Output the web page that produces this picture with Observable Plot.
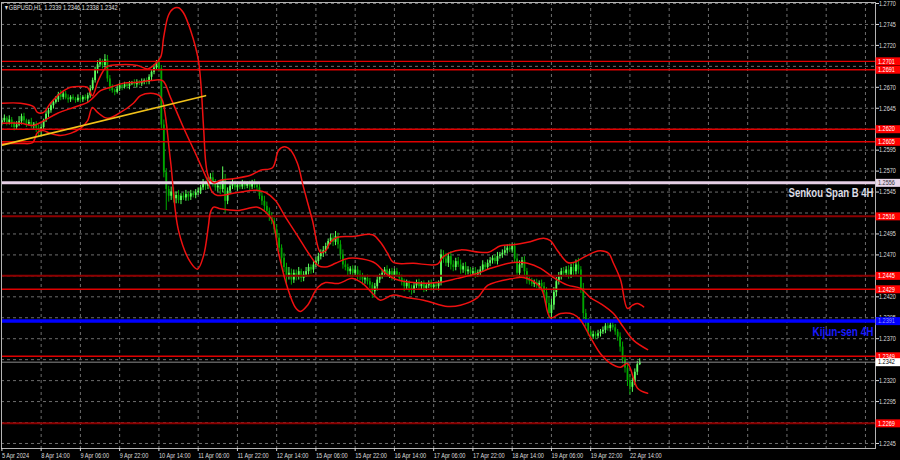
<!DOCTYPE html>
<html><head><meta charset="utf-8">
<script src="https://cdn.jsdelivr.net/npm/d3@7"></script>
<script src="https://cdn.jsdelivr.net/npm/@observablehq/plot@0.6"></script>
<style>
html,body{margin:0;padding:0;background:#000;}
#chart{width:900px;height:460px;overflow:hidden;}
</style></head><body><div id="chart"></div>
<script>
// ---- DATA (prices in pips above 1.2000) ----
const closes = [
630,633,628,631,627,622,625,629,635,630,
626,628,624,626,621,618,622,630,638,642,
648,652,655,661,658,662,657,655,658,656,
654,657,655,658,656,660,668,678,690,697,
700,696,703,680,670,666,664,668,672,670,
673,671,674,675,673,676,674,677,678,676,
682,688,693,699,692,625,568,548,540,545,
537,541,535,540,538,542,539,543,541,544,
546,550,555,552,558,562,556,550,552,548,
560,534,546,552,555,550,553,551,555,552,
554,551,556,553,550,540,534,528,522,515,
510,500,490,478,466,455,445,448,440,448,
444,450,442,446,450,455,452,458,462,468,
472,475,480,486,490,485,492,482,470,458,
455,450,453,448,452,446,444,440,442,438,
434,426,432,440,444,448,452,446,450,444,
450,446,442,438,432,436,430,428,433,437,
432,435,430,433,436,431,434,432,436,470,
465,460,468,458,455,462,458,452,456,450,
452,448,450,446,449,452,458,455,460,463,
466,462,468,470,472,475,478,476,480,465,
448,458,463,450,440,438,435,437,433,436,
432,425,412,400,410,425,438,445,450,448,
452,446,455,450,458,452,430,400,390,378,
372,375,373,376,378,380,385,382,386,383,
378,372,360,345,335,320,312,318,330,339,
342];
const firstOpen = 627;
const wickUp = [
3,4,2,5,3,2,4,6,3,4, 2,3,5,2,3,4,3,2,4,3, 3,2,4,3,5,2,3,4,2,3, 2,4,3,2,3,3,4,3,4,5,
4,3,6,5,4,3,2,4,3,2, 3,2,3,2,4,3,2,3,2,3, 3,2,4,3,5,4,6,5,4,6, 5,4,6,3,4,5,3,4,3,4,
4,3,5,3,4,5,6,4,3,4, 15,6,4,3,5,3,4,3,4,3, 3,4,3,4,3,5,4,6,5,4, 5,4,6,5,4,6,5,7,5,4,
4,5,3,4,5,4,3,4,5,4, 4,5,4,3,5,4,6,4,5,6, 5,4,3,4,5,4,5,4,3,4, 4,3,4,5,3,4,3,5,3,4,
3,4,3,4,3,4,3,4,3,3, 4,3,4,3,3,4,3,4,3,6, 5,7,4,6,5,4,5,6,4,5, 4,3,4,5,3,4,5,3,4,4,
3,4,5,3,4,5,4,5,3,4, 6,5,4,5,4,3,4,3,4,3, 4,5,6,8,7,6,5,4,4,5, 4,5,4,5,6,8,4,6,5,4,
3,4,3,4,3,4,3,4,3,4, 4,3,5,6,5,6,7,5,4,4, 4];
const wickDn = [
3,2,4,3,5,4,3,2,4,3, 4,2,3,4,5,8,6,3,2,4, 3,4,2,3,4,3,2,4,3,2, 3,2,4,3,2,4,3,2,3,4,
3,4,3,4,5,3,4,2,3,4, 2,3,4,2,3,4,2,3,4,3, 3,4,3,2,4,5,6,25,7,5, 5,6,4,5,3,4,5,4,3,4,
3,4,3,5,4,3,5,4,5,6, 4,14,4,3,4,3,4,3,3,4, 3,4,3,4,5,4,5,6,4,5, 4,5,6,5,7,6,12,5,6,4,
5,4,5,4,3,4,5,4,3,4, 4,5,4,3,4,5,4,5,6,5, 4,5,4,5,4,6,5,6,5,4, 4,8,4,5,4,3,4,3,4,5,
4,3,4,5,6,4,5,6,4,3, 3,4,5,4,3,4,3,4,5,3, 5,4,5,6,5,4,3,5,4,5, 4,5,3,4,3,4,3,4,3,4,
4,3,4,3,4,3,4,3,4,5, 6,5,4,6,5,4,3,4,3,4, 5,6,7,6,8,6,5,4,5,4, 4,5,4,5,4,5,6,7,6,5,
4,3,4,3,4,3,4,3,4,3, 4,5,6,5,6,7,9,6,4,4, 1];

// Bands: [bar index, pips]
const bandUpper = [[0,651],[7.6,651],[12.9,647],[14.5,640],[17,640],[19.8,651],[23.9,663],[28,670],[32,671],[34.9,670],[36.9,660],[39,676],[41,688],[43,695],[48.3,697],[55.3,696],[59.4,692],[61.8,696],[64.7,706],[65.9,729],[67.9,756],[69.9,764],[72,765],[74,759],[76.9,738],[80.1,702],[82.2,622],[83,583],[83.8,567],[84.6,561],[86.3,556],[89.1,559],[94.4,561],[101.3,565],[105.4,571],[110.3,574],[112.8,595],[115.2,599],[117.7,595],[120.5,579],[123,550],[126.6,511],[129.9,473],[131.9,475],[133.9,485],[136.8,491],[142.9,492],[151.1,494],[154.3,485],[157.2,472],[159.6,461],[167.8,460],[177.6,459],[179.6,467],[182.9,473],[187,476],[198,473],[203.3,481],[208.6,482],[214.3,485],[220.8,490],[223.6,487],[226.5,475],[230.6,461],[233,461],[237.1,467],[241.2,473],[244,475],[247.3,472],[249.3,460],[252.2,440],[255,406],[257.1,410],[259.1,412],[261.6,408]];
const bandMiddle = [[0,627],[7.6,627],[12.9,624.5],[17,630],[22.7,639],[29.2,646],[34.9,652],[37.3,658],[40.2,666],[44.3,670],[49.6,675],[55.3,676],[60.6,678],[65.5,678],[68.7,658],[74,622],[79.7,586],[83.8,559],[85.9,544.5],[87.9,541],[96,544.5],[104.2,547],[107.5,544.5],[111.5,535],[115.6,515],[120.9,491],[125,472],[129.1,457],[132.7,456],[136,460],[141.3,466],[147,465],[152.3,460],[156.4,448],[160.5,441],[167.8,437],[177.6,437],[185.7,442],[193.9,448],[199.2,454],[208.6,461],[214.3,460],[219.6,454],[224.9,443],[230.6,434],[235.9,430],[239.9,419],[244,412],[249.3,400],[253.4,383.5],[257.5,368],[263.2,357]];
const bandLower = [[0,603],[7.6,603],[12.5,604],[14.5,616],[16.6,618.5],[19.8,615],[23.9,612.5],[28,615],[32,621],[34.9,630],[36.9,646],[39,640],[43,633],[48.3,640],[53.6,651],[56.5,660],[61.8,662.6],[64.2,660],[65.5,654],[68.7,583],[72,499],[76.9,461],[79.7,453],[82.2,469],[84.2,505],[85,521],[86.3,527],[89.1,525],[96,523],[104.2,527],[107.5,521],[110.3,511],[112.8,472],[116.4,431],[119.7,407],[121.7,402.6],[124.6,410],[128.7,431],[131.9,437],[137.2,436],[142.9,442],[147,436],[151.1,424],[154.3,416],[159.2,422],[165.3,419],[171.9,416],[181.7,408.5],[186.9,410],[193.9,419],[198,433.6],[208.6,442],[212.6,443],[219.6,431],[223.6,395],[227.7,400],[233,399],[235.9,392],[239.9,371.5],[244,352],[248.1,340.5],[252.2,336],[255,340.5],[259.1,311],[263.2,305]];
const trendLine = [[0,601],[83,660]];

const levelsBright = [1.2701, 1.2691, 1.2620, 1.2605, 1.2429, 1.2349];
const levelsDark = [1.2516, 1.2445, 1.2269];
const senkou = 1.2556;
const kijun = 1.2391;
const lastPrice = 1.2342;
const title = "GBPUSD,H1  1.2339 1.2346 1.2338 1.2342";
const senkouLabel = "Senkou Span B 4H";
const kijunLabel = "Kijun-sen 4H";

const priceTicks = [1.2770,1.2745,1.2720,1.2695,1.2670,1.2645,1.2620,1.2595,1.2570,1.2545,1.2520,1.2495,1.2470,1.2445,1.2420,1.2395,1.2370,1.2345,1.2320,1.2295,1.2270,1.2245];
// tick labels hidden behind the price-label boxes in the terminal
const coveredTicks = [1.2695, 1.2620, 1.2520, 1.2445, 1.2345, 1.2270];
const tickIdx = [0,16,32,48,64,80,96,112,128,144,160,176,192,208,224,240,256];
const tickLabels = ["5 Apr 2024","8 Apr 14:00","9 Apr 06:00","9 Apr 22:00","10 Apr 14:00","11 Apr 06:00","11 Apr 22:00","12 Apr 14:00","15 Apr 06:00","15 Apr 22:00","16 Apr 14:00","17 Apr 06:00","17 Apr 22:00","18 Apr 14:00","19 Apr 06:00","19 Apr 22:00","22 Apr 14:00"];
const gridIdx = [16,32,48,64,80,96,112,128,144,160,176,192,208,224,240,256,272,288,304,320,336,352];

// ---- BUILD ----
const P = p => 1.2 + p / 10000;
const bars = closes.map((c, i) => {
  const o = i === 0 ? firstOpen : closes[i - 1];
  return {i, open: P(o), close: P(c), high: P(Math.max(o, c) + wickUp[i]), low: P(Math.min(o, c) - wickDn[i]), up: c >= o};
});
const X_END = 356.1;
const labelMap = new Map(tickIdx.map((d, i) => [d, tickLabels[i]]));
const visibleTicks = priceTicks.filter(d => !coveredTicks.includes(d));
const FONT = "'Liberation Sans',Arial,sans-serif";
const FS = 8, FSR = 7.1;
const UP = "#5cff5c", DOWN = "#00a800";
const bx = d => d[0], by = d => P(d[1]);

const allLevels = [...levelsBright, ...levelsDark];
const boxRule = (vals, color) => Plot.ruleY(vals, {y: d => d, x1: () => X_END + 0.25, x2: () => X_END + 10.4, stroke: color, strokeWidth: 8});
const boxText = (vals, color) => Plot.text(vals, {y: d => d, x: () => X_END, dx: 2.5, textAnchor: "start", text: d => d.toFixed(4), fill: color, fontSize: FSR});

const chart = Plot.plot({
  width: 900, height: 460,
  marginLeft: 1, marginRight: 25, marginTop: 2, marginBottom: 12,
  style: {background: "#000", color: "#ddd", fontFamily: FONT, fontSize: FS + "px", overflow: "visible"},
  x: {domain: [0, X_END], range: [1.4, 875], axis: null},
  y: {domain: [1.2239, 1.27712], range: [448, 2], axis: null},
  marks: [
    Plot.gridY(priceTicks, {stroke: "#6e6e6e", strokeOpacity: 1, strokeDasharray: "3,3"}),
    Plot.gridX(gridIdx, {stroke: "#6e6e6e", strokeOpacity: 1, strokeDasharray: "3,3"}),
    Plot.ruleX(bars, {x: "i", y1: "low", y2: "high", stroke: d => d.up ? UP : DOWN, strokeWidth: 1}),
    Plot.ruleX(bars, {x: "i", y1: "open", y2: "close", stroke: d => d.up ? UP : DOWN, strokeWidth: 1.8}),
    Plot.ruleY(levelsBright, {stroke: "#e00000", strokeWidth: 1.4}),
    Plot.ruleY(levelsDark, {stroke: "#8c0000", strokeWidth: 2}),
    Plot.ruleY([lastPrice], {stroke: "#8a8a8a", strokeWidth: 1}),
    Plot.ruleY([senkou], {stroke: "#e6cfe6", strokeWidth: 3}),
    Plot.ruleY([kijun], {stroke: "#0000ff", strokeWidth: 3.5}),
    Plot.line(bandUpper, {x: bx, y: by, stroke: "#ee1010", strokeWidth: 1.5, curve: "catmull-rom"}),
    Plot.line(bandMiddle, {x: bx, y: by, stroke: "#ee1010", strokeWidth: 1.5, curve: "catmull-rom"}),
    Plot.line(bandLower, {x: bx, y: by, stroke: "#ee1010", strokeWidth: 1.5, curve: "catmull-rom"}),
    Plot.line(trendLine, {x: bx, y: by, stroke: "#f2c21a", strokeWidth: 1.6}),
    Plot.frame({stroke: "#b4b4b4"}),
    Plot.axisX(tickIdx, {anchor: "bottom", tickSize: 3, tickPadding: 1, textAnchor: "start", tickFormat: d => labelMap.get(d), color: "#dcdcdc", fontSize: FS, label: null}),
    Plot.axisY(visibleTicks, {anchor: "right", tickSize: 3, tickPadding: 0.5, tickFormat: d => d.toFixed(4), color: "#dcdcdc", fontSize: FSR, label: null}),
    boxRule(allLevels, "#ff0000"),
    boxText(allLevels, "#ffffff"),
    boxRule([senkou], "#e8d8ea"),
    boxText([senkou], "#333333"),
    boxRule([kijun], "#0000ff"),
    boxText([kijun], "#9a9aff"),
    boxRule([lastPrice], "#ffffff"),
    boxText([lastPrice], "#000000"),
    Plot.text([senkou], {y: d => d, frameAnchor: "right", textAnchor: "end", dx: -2, dy: 10, text: () => senkouLabel, fill: "#dcdce4", fontWeight: "bold", fontSize: 12.5}),
    Plot.text([kijun], {y: d => d, frameAnchor: "right", textAnchor: "end", dx: -2, dy: 11, text: () => kijunLabel, fill: "#1a1aff", fontWeight: "bold", fontSize: 12.5}),
    Plot.text([title], {frameAnchor: "top-left", dx: 3, dy: 2, textAnchor: "start", lineAnchor: "top", text: d => "\u25BE " + d, fill: "#e0e0e0", fontSize: FS})
  ]
});
document.getElementById("chart").appendChild(chart);

// condense texts to mimic the narrow terminal font
chart.querySelectorAll("text").forEach(t => {
  const s = t.textContent;
  const len = t.getComputedTextLength();
  if (!len) return;
  let target;
  if (s === senkouLabel) target = 85;
  else if (s === kijunLabel) target = 61;
  else if (/^1\.2\d{3}$/.test(s)) target = len * 0.78;
  else target = len * 0.7;
  t.setAttribute("textLength", target.toFixed(1));
  t.setAttribute("lengthAdjust", "spacingAndGlyphs");
});
</script></body></html>
